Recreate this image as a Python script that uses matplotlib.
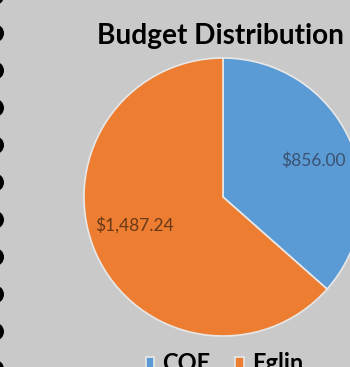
import matplotlib.pyplot as plt
from matplotlib.patches import Circle

# data
categories = ["COE", "Eglin"]
amounts = [856.00, 1487.24]
colors = ["#5b9bd5", "#ed7d31"]

W, H = 350, 367
bg = "#c9c9c9"

fig = plt.figure(figsize=(W / 100, H / 100), dpi=100, facecolor=bg)

# overlay in pixel coords for the binder holes on the left edge
deco = fig.add_axes([0, 0, 1, 1])
deco.set_xlim(0, W)
deco.set_ylim(H, 0)
deco.axis("off")
for i in range(11):
    deco.add_patch(Circle((-5, -4 + 37.3 * i), 9, color="black", lw=0))

# pie: centre (223,197) px, radius 139 px
cx, cy, r = 223, 197, 139
ax = fig.add_axes([(cx - r) / W, (H - cy - r) / H, 2 * r / W, 2 * r / H])
ax.set_facecolor("none")


def fmt(pct):
    val = pct / 100 * sum(amounts)
    return "${:,.2f}".format(val)


wedges, texts, autotexts = ax.pie(
    amounts, colors=colors, startangle=90, counterclock=False,
    autopct=fmt, pctdistance=0.68,
    wedgeprops=dict(edgecolor="#e8e8e8", linewidth=1.2),
    textprops=dict(fontsize=12.5, family="Lato"))
ax.set_xlim(-1, 1)
ax.set_ylim(-1, 1)

# nudge labels to where they sit in the original
autotexts[0].set_position(((313 - cx) / r, (cy - 161) / r))
autotexts[0].set_color("#3a5272")
autotexts[1].set_position(((134 - cx) / r, (cy - 225) / r))
autotexts[1].set_color("#6a3a18")

fig.text(97 / W, (H - 44) / H, "Budget Distribution", fontsize=20.2,
         fontweight="bold", family="Lato", color="black", va="baseline")

fig.legend(wedges, categories, loc="upper left", ncol=2,
           bbox_to_anchor=(146 / W, (H - 352) / H), frameon=False,
           prop=dict(family="Lato", weight="bold", size=17),
           handlelength=0.35, handleheight=0.35, handletextpad=0.35,
           columnspacing=1.05, borderaxespad=0, borderpad=0)

fig.savefig("out.png", dpi=100, facecolor=bg)
